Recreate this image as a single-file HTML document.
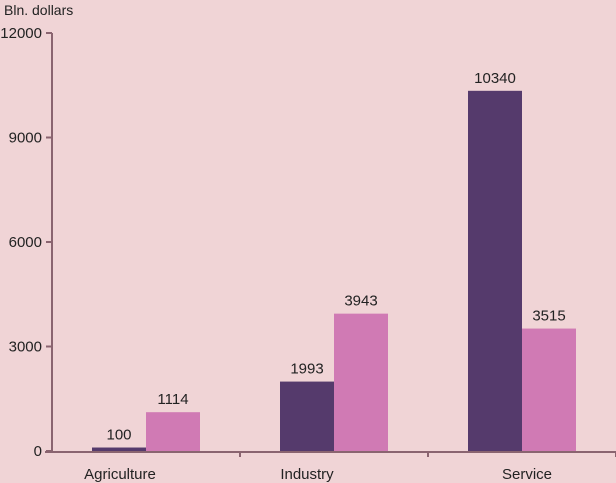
<!DOCTYPE html>
<html><head><meta charset="utf-8"><style>
body{margin:0;background:#f0d4d6;}
svg{display:block;font-family:"Liberation Sans",sans-serif;}
</style></head><body>
<svg id="c" width="616" height="483">
<rect width="616" height="483" fill="#f0d4d6"/>
<text x="4" y="15" font-size="14" fill="#222">Bln. dollars</text>
</svg>
<script>
const categories=["Agriculture","Industry","Service"];
const series1=[100,1993,10340];
const series2=[1114,3943,3515];
const yTicks=[0,3000,6000,9000,12000];
const labelX=[120,307,527];
const svg=document.getElementById('c');
const NS='http://www.w3.org/2000/svg';
const x0=52,y0=451,yTop=33,maxV=12000,catW=188,barW=54;
const y=v=>y0-(v/maxV)*(y0-yTop);
function mk(t,a){const e=document.createElementNS(NS,t);for(const k in a)e.setAttribute(k,a[k]);svg.appendChild(e);return e;}
let ax=mk('line',{x1:x0,y1:yTop,x2:x0,y2:y0+1,stroke:'#8a6470','stroke-width':2});


let xa=mk('line',{x1:45,y1:y0+1,x2:616,y2:y0+1,stroke:'#8a6470','stroke-width':2});


yTicks.forEach(v=>{
 const tk=mk('line',{x1:x0-6,y1:y(v),x2:x0,y2:y(v),stroke:'#8a6470','stroke-width':2});
 
 
 const t=mk('text',{x:x0-10,y:y(v)+5,'text-anchor':'end','font-size':15,fill:'#222'});
 t.textContent=v;
 
 
});
categories.forEach((c,i)=>{
 const cx=x0+catW*(i+0.5);
 const tk=mk('line',{x1:x0+catW*(i+1),y1:y0,x2:x0+catW*(i+1),y2:y0+6,stroke:'#8a6470','stroke-width':2});
 
 
 [[series1[i],'#553a6c',cx-barW],[series2[i],'#d07ab4',cx]].forEach(([v,col,bx],j)=>{
  const r=mk('rect',{x:bx,y:y(v),width:barW,height:y0-y(v),fill:col});
  
  
  const t=mk('text',{x:bx+barW/2,y:y(v)-8,'text-anchor':'middle','font-size':15,fill:'#222'});
  t.textContent=v;
  
  
 });
 const l=mk('text',{x:labelX[i],y:479,'text-anchor':'middle','font-size':15,fill:'#222'});
 l.textContent=c;
 
 
});
</script>
</body></html>
